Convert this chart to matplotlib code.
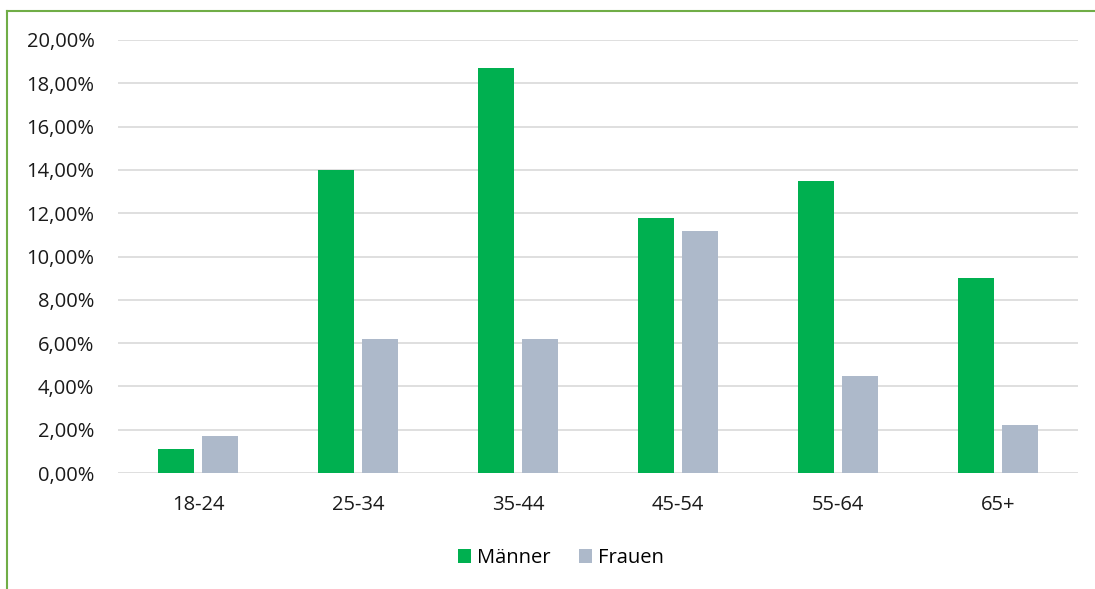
import matplotlib.pyplot as plt
import numpy as np
from matplotlib.lines import Line2D
from matplotlib.ticker import FuncFormatter

# age groups and shares (%)
groups = ['18-24', '25-34', '35-44', '45-54', '55-64', '65+']
maenner = [1.1, 14.0, 18.7, 11.8, 13.5, 9.0]
frauen = [1.7, 6.2, 6.2, 11.2, 4.5, 2.2]

plt.rcParams['font.family'] = ['Open Sans', 'DejaVu Sans']

fig = plt.figure(figsize=(10.95, 5.89), dpi=100)
ax = fig.add_axes([118/1095, 1-473/589, 960/1095, 433/589])

x = np.arange(len(groups))
w = 0.225
off = 0.1406
ax.bar(x - off, maenner, w, color='#00B050', label='Männer', zorder=3)
ax.bar(x + off, frauen, w, color='#ADB9CA', label='Frauen', zorder=3)

ax.set_xlim(-0.5, len(groups) - 0.5)
ax.set_ylim(0, 20)
ax.set_yticks(np.arange(0, 21, 2))
ax.yaxis.set_major_formatter(FuncFormatter(lambda v, p: ('%.2f%%' % v).replace('.', ',')))
ax.set_xticks(x)
ax.set_xticklabels(groups)
ax.grid(axis='y', color='#D9D9D9', linewidth=1.2, zorder=0)
ax.tick_params(length=0, labelsize=14.5, colors='#1a1a1a')
ax.tick_params(axis='x', pad=16)
ax.tick_params(axis='y', pad=17)
for s in ax.spines.values():
    s.set_visible(False)

fig.legend(loc='center', bbox_to_anchor=(561/1095, 1-558/589), ncol=2, frameon=False,
           fontsize=14.5, handlelength=0.65, handleheight=0.65, handletextpad=0.3,
           columnspacing=1.4)

# green frame on left and top
fig.add_artist(Line2D([7/1095, 7/1095], [0, 1-11/589], color='#70AD47', linewidth=1.5))
fig.add_artist(Line2D([7/1095, 1], [1-11/589, 1-11/589], color='#70AD47', linewidth=1.5))

fig.savefig('out.png', dpi=100)
